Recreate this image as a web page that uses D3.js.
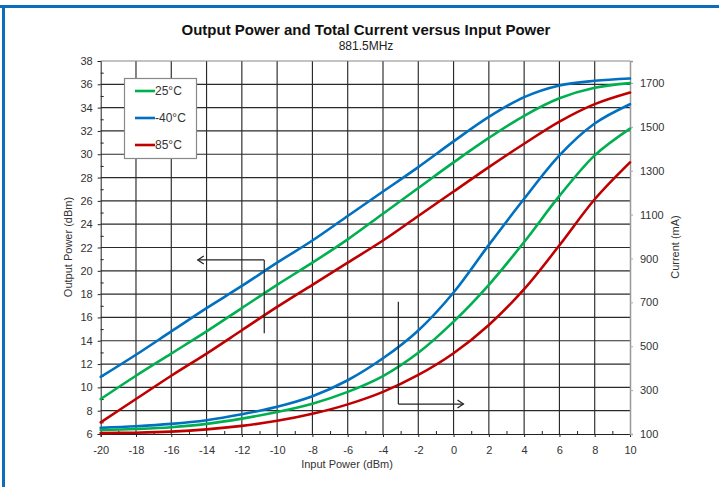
<!DOCTYPE html>
<html>
<head>
<meta charset="utf-8">
<script src="https://cdn.jsdelivr.net/npm/d3@7"></script>
<style>
  html, body { margin: 0; padding: 0; background: #fff; }
  svg { display: block; font-family: "Liberation Sans", Arial, sans-serif; }
</style>
</head>
<body>
<svg id="chart" width="719" height="487"></svg>
<script>
// Input power sweep (dBm)
const inputPower = [-20, -18, -16, -14, -12, -10, -8, -6, -4, -2, 0, 2, 4, 6, 8, 10];

// Output power (dBm) per temperature
const poutCold = [10.9, 12.8, 14.8, 16.8, 18.7, 20.7, 22.6, 24.7, 26.8, 28.9, 31.1, 33.2, 34.9, 35.9, 36.3, 36.5];
const poutRoom = [9.0, 11.0, 12.9, 14.8, 16.8, 18.8, 20.7, 22.7, 24.9, 27.1, 29.3, 31.4, 33.3, 34.8, 35.7, 36.1];
const poutHot  = [7.0, 9.0, 11.0, 12.9, 14.9, 16.9, 18.8, 20.7, 22.6, 24.7, 26.8, 28.9, 30.9, 32.8, 34.3, 35.3];

// Total current (mA) per temperature
const iCold = [128, 135, 146, 163, 190, 224, 272, 345, 445, 572, 745, 962, 1172, 1370, 1515, 1603];
const iRoom = [118, 123, 131, 146, 170, 200, 238, 292, 364, 470, 612, 780, 975, 1185, 1370, 1492];
const iHot  = [104, 106, 111, 121, 137, 160, 192, 235, 292, 369, 468, 597, 760, 960, 1170, 1338];

// Legend entries (drawn order)
const legendLabels = ["25°C", "-40°C", "85°C"];
const seriesColors = { "25°C": "#00b050", "-40°C": "#0070c0", "85°C": "#c00000" };

// Axis ticks
const xTicks = d3.range(-20, 11, 2);
const yLeftTicks = d3.range(6, 39, 2);
const yRightTicks = d3.range(100, 1701, 200);

const svg = d3.select("#chart");
const plain = d => String(d);

// Frame accent
svg.append("rect").attr("x", 0).attr("y", 5).attr("width", 719).attr("height", 3).attr("fill", "#0a6ebd");
svg.append("rect").attr("x", 2).attr("y", 5).attr("width", 3).attr("height", 482).attr("fill", "#0a6ebd");

const plot = { left: 100.7, right: 630, top: 61, bottom: 434 };

const x = d3.scaleLinear().domain([-20, 10]).range([plot.left, plot.right]);
const yL = d3.scaleLinear().domain([6, 38]).range([plot.bottom, plot.top]);
const yR = d3.scaleLinear().domain([100, 1800]).range([plot.bottom, plot.top]);

// Title
svg.append("text").attr("x", 366).attr("y", 35).attr("text-anchor", "middle")
  .attr("font-size", 15).attr("font-weight", "bold").attr("fill", "#111")
  .text("Output Power and Total Current versus Input Power");
svg.append("text").attr("x", 366).attr("y", 50).attr("text-anchor", "middle")
  .attr("font-size", 12).attr("fill", "#222").text("881.5MHz");

// Grid
const grid = svg.append("g").attr("stroke", "#2a2a2a").attr("stroke-width", 1.15);
grid.selectAll("line.v").data(xTicks.filter(d => d > -20 && d < 10)).join("line")
  .attr("x1", d => x(d)).attr("x2", d => x(d)).attr("y1", plot.top).attr("y2", plot.bottom);
grid.selectAll("line.h").data(yLeftTicks.filter(d => d > 6 && d < 38)).join("line")
  .attr("x1", plot.left).attr("x2", plot.right).attr("y1", d => yL(d)).attr("y2", d => yL(d));

// Plot frame: top edge in grey
svg.append("line").attr("x1", plot.left).attr("x2", plot.right).attr("y1", plot.top).attr("y2", plot.top)
  .attr("stroke", "#888").attr("stroke-width", 1.2);

// Left axis
const leftAxis = d3.axisLeft(yL).tickValues(yLeftTicks).tickSize(3).tickPadding(5).tickFormat(plain);
const gL = svg.append("g").attr("transform", `translate(${plot.left},0)`).call(leftAxis);
gL.select(".domain").attr("stroke", "#222");
gL.selectAll(".tick line").attr("stroke", "#222");
gL.selectAll("text").attr("font-size", 11).attr("fill", "#333").attr("font-family", "Liberation Sans, Arial, sans-serif");
const leftMinor = d3.axisRight(yL).tickValues(d3.range(7, 38, 2)).tickSize(3).tickFormat("");
const gLm = svg.append("g").attr("transform", `translate(${plot.left},0)`).call(leftMinor);
gLm.select(".domain").remove();
gLm.selectAll(".tick line").attr("stroke", "#222");

// Bottom axis
const bottomAxis = d3.axisBottom(x).tickValues(xTicks).tickSize(3).tickPadding(9).tickFormat(plain);
const gB = svg.append("g").attr("transform", `translate(0,${plot.bottom})`).call(bottomAxis);
gB.select(".domain").attr("stroke", "#222");
gB.selectAll(".tick line").attr("stroke", "#222");
gB.selectAll("text").attr("font-size", 11).attr("fill", "#333").attr("font-family", "Liberation Sans, Arial, sans-serif");
const bottomMinor = d3.axisTop(x).tickValues(d3.range(-19, 10, 2)).tickSize(3).tickFormat("");
const gBm = svg.append("g").attr("transform", `translate(0,${plot.bottom})`).call(bottomMinor);
gBm.select(".domain").remove();
gBm.selectAll(".tick line").attr("stroke", "#222");

// Right axis (current)
const rightAxis = d3.axisRight(yR).tickValues(yRightTicks).tickSize(3).tickPadding(7).tickFormat(plain);
const gR = svg.append("g").attr("transform", `translate(${plot.right},0)`).call(rightAxis);
gR.select(".domain").attr("stroke", "#999").attr("stroke-width", 1.5);
gR.selectAll(".tick line").attr("stroke", "#aaa");
gR.selectAll("text").attr("font-size", 11).attr("fill", "#333").attr("font-family", "Liberation Sans, Arial, sans-serif");

// Axis titles
svg.append("text").attr("x", 347).attr("y", 468).attr("text-anchor", "middle")
  .attr("font-size", 11).attr("fill", "#333").text("Input Power (dBm)");
svg.append("text").attr("transform", "translate(72,247) rotate(-90)").attr("text-anchor", "middle")
  .attr("font-size", 11).attr("fill", "#333").text("Output Power (dBm)");
svg.append("text").attr("transform", "translate(679,247) rotate(-90)").attr("text-anchor", "middle")
  .attr("font-size", 11).attr("fill", "#333").text("Current (mA)");

// Curves
const smooth = d3.curveCatmullRom.alpha(0.5);
const lineL = d3.line().x((d, i) => x(inputPower[i])).y(d => yL(d)).curve(smooth);
const lineR = d3.line().x((d, i) => x(inputPower[i])).y(d => yR(d)).curve(smooth);

const curves = [
  { key: "-40°C", values: poutCold, gen: lineL },
  { key: "25°C",  values: poutRoom, gen: lineL },
  { key: "85°C",  values: poutHot,  gen: lineL },
  { key: "-40°C", values: iCold, gen: lineR },
  { key: "25°C",  values: iRoom, gen: lineR },
  { key: "85°C",  values: iHot,  gen: lineR }
];
svg.append("g").selectAll("path").data(curves).join("path")
  .attr("d", c => c.gen(c.values))
  .attr("fill", "none")
  .attr("stroke", c => seriesColors[c.key])
  .attr("stroke-width", 2.6)
  .attr("stroke-linecap", "round");

// Pointer arrows showing which axis each curve family uses
function pointer(vx, yTop, yBottom, hx, hy, dir) {
  const g = svg.append("g").attr("stroke", "#222").attr("stroke-width", 1.2).attr("fill", "none");
  g.append("path").attr("d", `M${x(vx)},${yL(yBottom)} V${yL(yTop)} M${x(vx)},${yL(hy)} H${x(hx)}`);
  const ax = x(hx), ay = yL(hy);
  g.append("path").attr("d", `M${ax - dir * 6},${ay - 4} L${ax},${ay} L${ax - dir * 6},${ay + 4}`);
}
pointer(-10.73, 20.93, 14.64, -14.5, 20.93, -1);
pointer(-3.13, 17.35, 8.57, 0.56, 8.57, 1);

// Legend
const lg = svg.append("g");
lg.append("rect").attr("x", 124.5).attr("y", 78.5).attr("width", 72).attr("height", 80)
  .attr("fill", "#fff").attr("stroke", "#888").attr("stroke-width", 1.2);
const rows = lg.selectAll("g.row").data(legendLabels).join("g")
  .attr("transform", (d, i) => `translate(0,${91 + i * 27})`);
rows.append("line").attr("x1", 135).attr("x2", 155).attr("y1", 0).attr("y2", 0)
  .attr("stroke", d => seriesColors[d]).attr("stroke-width", 2.6);
rows.append("text").attr("x", 155).attr("y", 4.3).attr("font-size", 12).attr("fill", "#333").text(d => d);
</script>
</body>
</html>
